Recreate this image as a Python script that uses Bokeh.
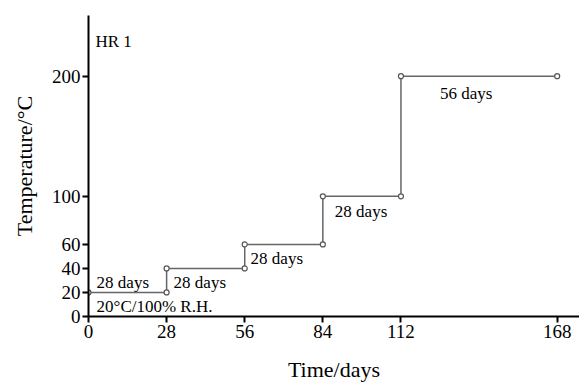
from bokeh.plotting import figure
from bokeh.models import Range1d, FixedTicker, ColumnDataSource
from bokeh.core.properties import value
from bokeh.embed import file_html
from bokeh.resources import INLINE

# Data
time_days = [0, 28, 28, 56, 56, 84, 84, 112, 112, 168]
temperature = [20, 20, 40, 40, 60, 60, 100, 100, 200, 200]
x_ticks = [0, 28, 56, 84, 112, 168]
y_ticks = [0, 20, 40, 60, 100, 200]

ann_x = [2.9, 2.9, 30.5, 58.1, 88.3, 126, 2.5]
ann_y = [28, 8.6, 28, 48, 87, 186, 229]
ann_text = ["28 days", "20°C/100% R.H.", "28 days", "28 days", "28 days", "56 days", "HR 1"]

FONT = "Liberation Serif"

p = figure(width=579, height=384, output_backend="svg", toolbar_location=None,
           x_range=Range1d(0, 176), y_range=Range1d(0, 250.5))
p.min_border_left = 88
p.min_border_right = 0
p.min_border_top = 15
p.min_border_bottom = 67
p.outline_line_color = None
p.xgrid.visible = False
p.ygrid.visible = False
p.background_fill_color = "white"
p.border_fill_color = "white"

for ax in (p.xaxis[0], p.yaxis[0]):
    ax.axis_line_width = 2
    ax.axis_line_color = "black"
    ax.major_tick_line_width = 2
    ax.major_tick_line_color = "black"
    ax.major_tick_in = 0
    ax.major_tick_out = 6
    ax.minor_tick_line_color = None
    ax.major_label_text_font = FONT
    ax.major_label_text_font_size = "19px"
    ax.major_label_text_color = "black"
    ax.axis_label_text_font = FONT
    ax.axis_label_text_font_size = "22px"
    ax.axis_label_text_font_style = "normal"
    ax.axis_label_text_color = "black"
    ax.major_label_standoff = 2

p.xaxis.ticker = FixedTicker(ticks=x_ticks)
p.yaxis.ticker = FixedTicker(ticks=y_ticks)
p.xaxis.axis_label = "Time/days"
p.yaxis.axis_label = "Temperature/°C"
p.xaxis.axis_label_standoff = 16
p.yaxis.axis_label_standoff = 12

src = ColumnDataSource(dict(x=time_days, y=temperature))
p.line("x", "y", source=src, line_color="#666666", line_width=1.5)
p.scatter("x", "y", source=src, size=5, marker="circle", fill_color="white",
          line_color="#555555", line_width=1.2)

asrc = ColumnDataSource(dict(x=ann_x, y=ann_y, t=ann_text))
p.text("x", "y", text="t", source=asrc, text_font=value(FONT), text_font_size="17px",
       text_baseline="middle", text_align="left", text_color="black")

open("out.html", "w").write(file_html(p, INLINE))
